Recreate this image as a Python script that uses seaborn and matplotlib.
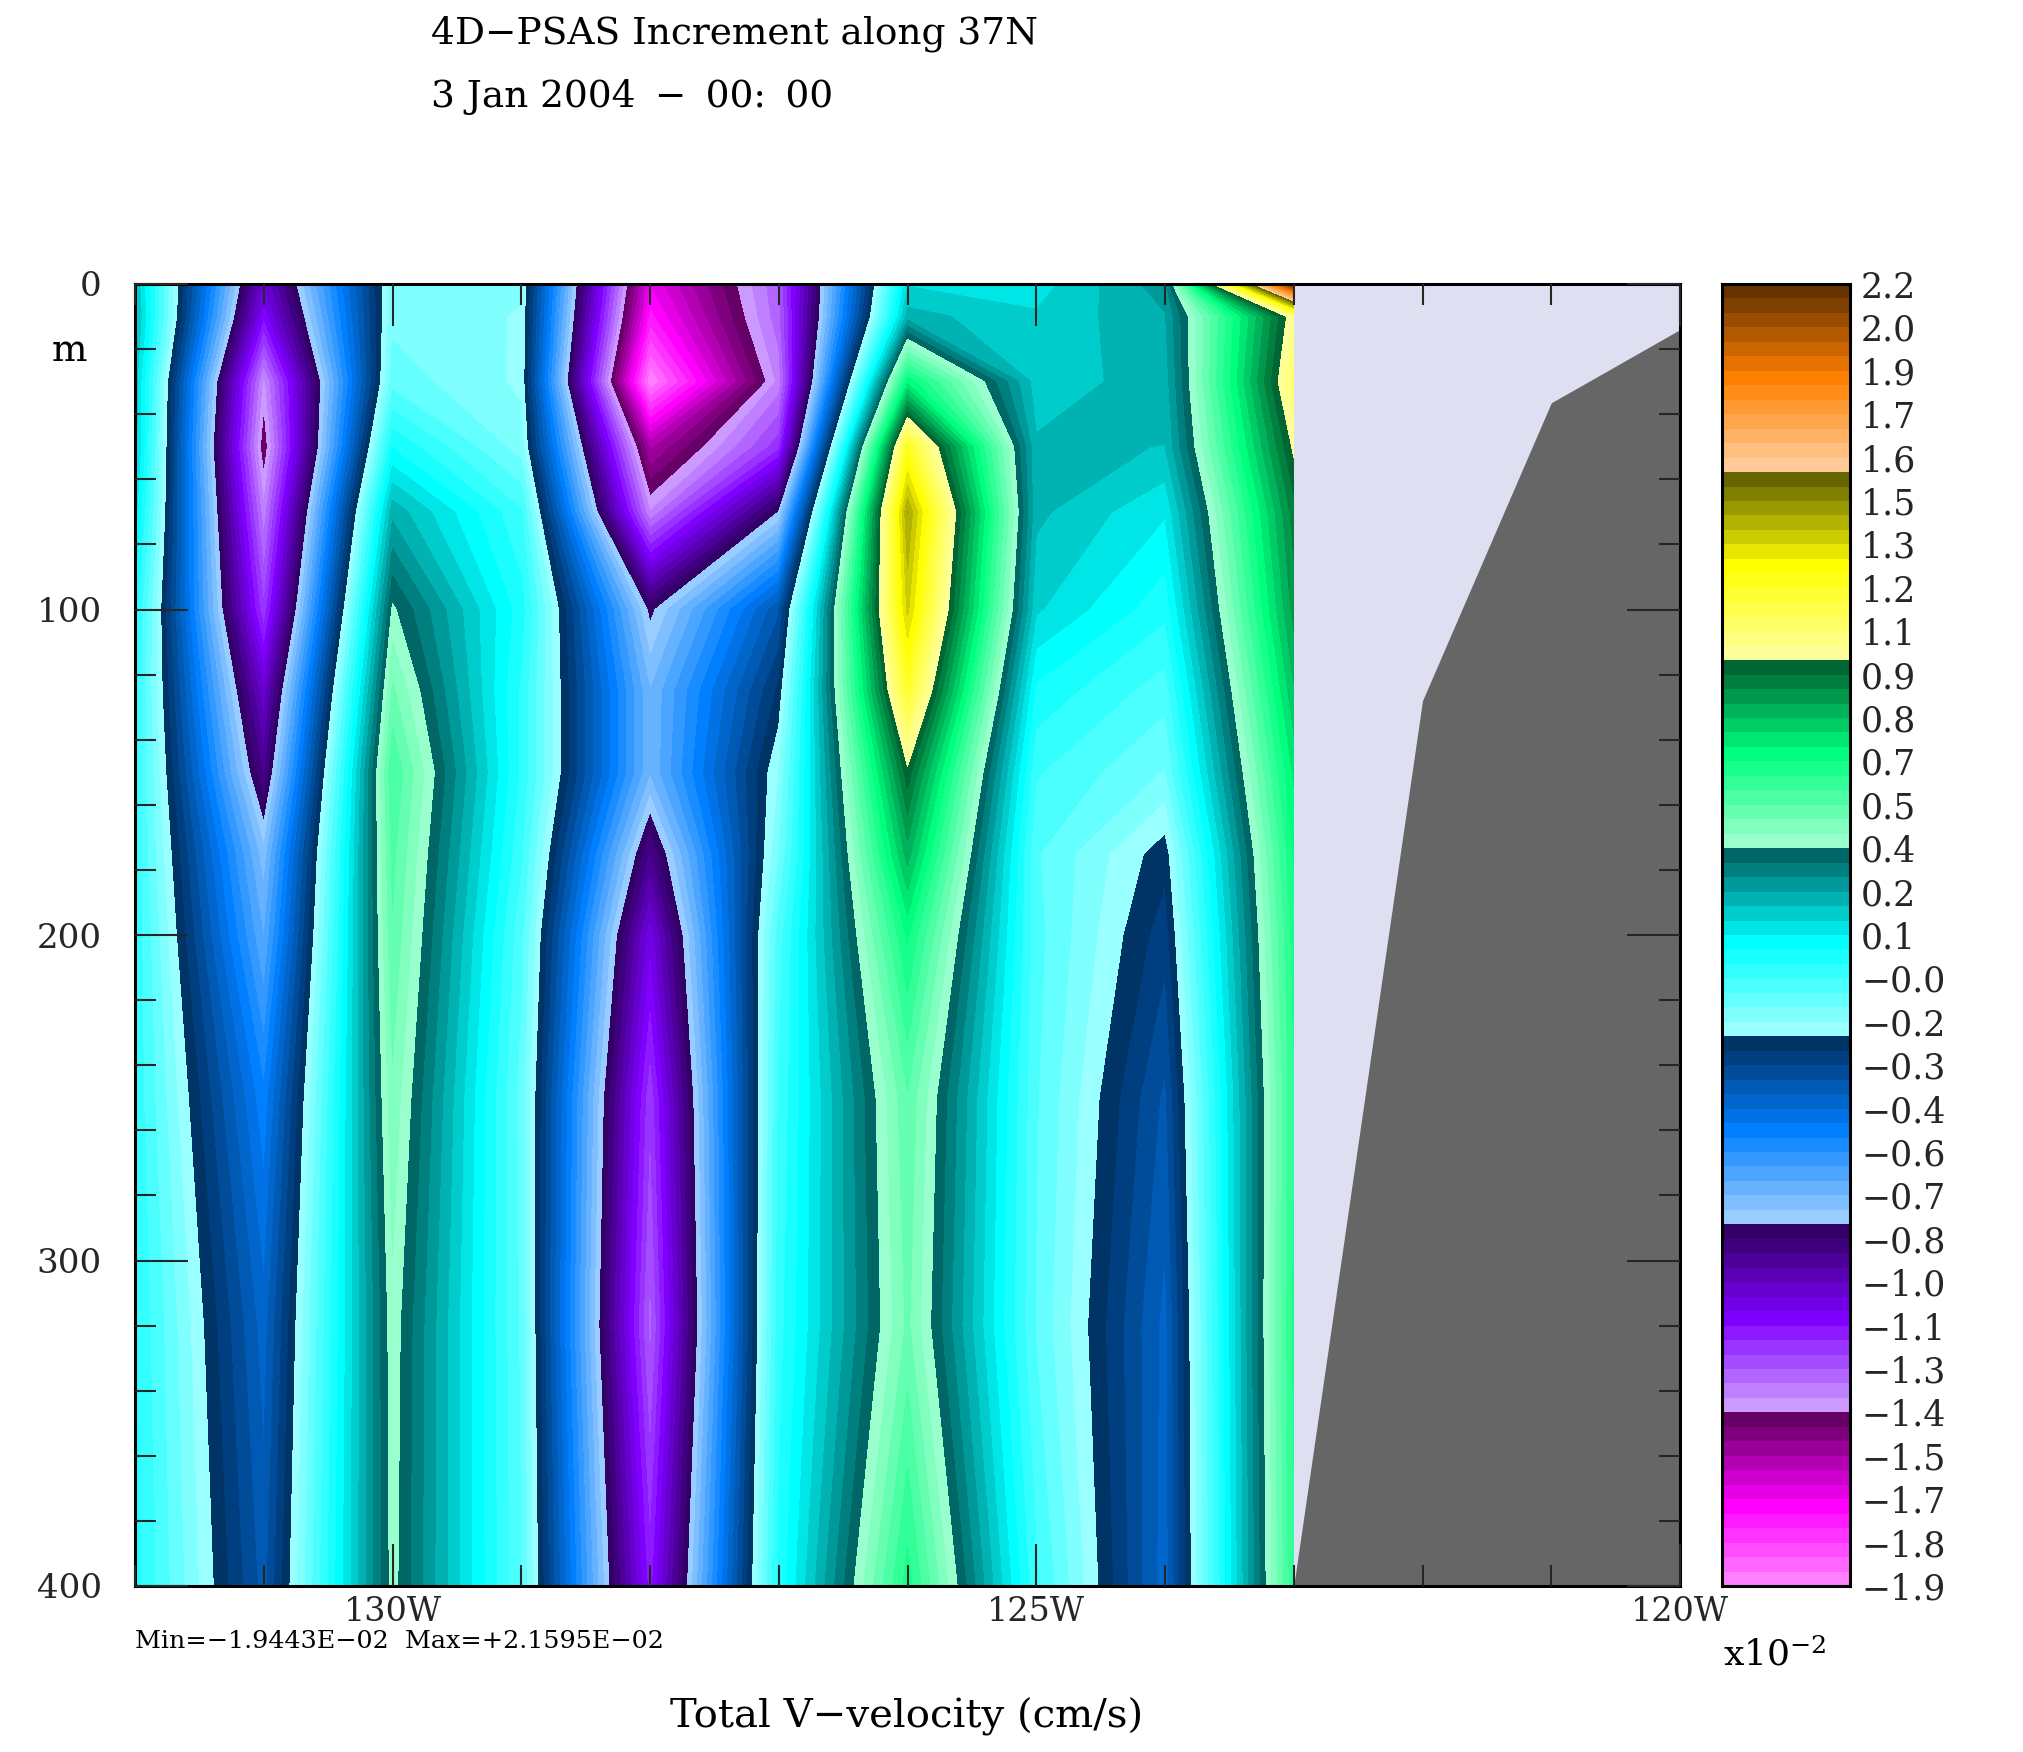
import numpy as np
import matplotlib
matplotlib.use("Agg")
import matplotlib.pyplot as plt
from matplotlib.colors import ListedColormap, to_rgb
from matplotlib.ticker import FixedLocator
import seaborn as sns

# section along 37N, values in units of 1e-2
lons = [-132, -131, -130, -129, -128, -127, -126, -125, -124, -123]
depths = [0, 10, 30, 50, 70, 100, 125, 150, 175, 200, 250, 320, 400]
v_0 = [.198, -1.035, -.140, -.160, -1.670, -1.268, .148, .130, .270, 2.1595]
v_10 = [.219, -1.116, -.135, -.170, -1.735, -1.278, .219, .160, .240, 1.017]
v_30 = [.178, -1.369, -.095, -.176, -1.9443, -1.338, .684, .175, .220, 1.078]
v_50 = [.178, -1.440, .057, -.145, -1.548, -1.187, 1.210, .205, .198, .987]
v_70 = [.128, -1.338, .229, -.024, -1.349, -.804, 1.432, .210, .113, .906]
v_100 = [.037, -1.207, .391, .037, -.823, -.358, 1.351, .160, .030, .856]
v_125 = [.006, -1.025, .482, .006, -.712, -.246, 1.189, .050, -.055, .785]
v_150 = [.006, -.904, .562, .006, -.712, -.166, .957, -.024, -.125, .710]
v_175 = [-.004, -.742, .532, -.024, -.904, -.125, .815, -.070, -.240, .660]
v_200 = [.006, -.671, .512, -.064, -1.065, -.054, .664, -.060, -.285, .630]
v_250 = [.006, -.519, .461, -.095, -1.207, -.024, .512, -.070, -.360, .600]
v_320 = [.023, -.418, .411, -.085, -1.278, -.004, .482, -.080, -.410, .620]
v_400 = [.031, -.368, .401, -.075, -1.146, .027, .633, -.020, -.420, .600]
section = [v_0, v_10, v_30, v_50, v_70, v_100, v_125, v_150, v_175, v_200, v_250, v_320, v_400]

# sea floor east of the last wet column
bottom_lons = [-123, -122, -121, -120]
bottom_depths = [400, 128, 36.5, 14]

v_min = -1.9443
v_max = 2.1595
cbar_labels = ['2.2', '2.0', '1.9', '1.7', '1.6', '1.5', '1.3', '1.2', '1.1', '0.9', '0.8',
               '0.7', '0.5', '0.4', '0.2', '0.1', '\u22120.0', '\u22120.2', '\u22120.3', '\u22120.4',
               '\u22120.6', '\u22120.7', '\u22120.8', '\u22121.0', '\u22121.1', '\u22121.3', '\u22121.4',
               '\u22121.5', '\u22121.7', '\u22121.8', '\u22121.9']
base_colors = ['#ff00ff', '#7f00ff', '#007fff', '#00ffff', '#00ff7f', '#ffff00', '#ff7f00']

W, H = 2024, 1752
SERIF = 'DejaVu Serif'


def px_rect(x0, y0, x1, y1):
    return [x0 / W, 1 - y1 / H, (x1 - x0) / W, (y1 - y0) / H]


def px_text(x, y, s, size, **kw):
    fig.text(x / W, 1 - y / H, s, fontsize=size, va='baseline', **kw)


def band_colors():
    # each hue: 6 tints, the pure colour, 6 shades; the palest magenta is not used
    colors = []
    for base in base_colors:
        rgb = np.array(to_rgb(base))
        colors += sns.blend_palette([rgb * .4 + .6, rgb], 7)
        colors += sns.blend_palette([rgb, rgb * .4], 7)[1:]
    return colors[1:]


sns.set_theme(style='ticks')
plt.rcParams['font.family'] = [SERIF, 'DejaVu Sans']
plt.rcParams['mathtext.fontset'] = 'dejavuserif'

colors = band_colors()
levels = np.linspace(v_min, v_max, len(colors) + 1)

fig = plt.figure(figsize=(W / 100, H / 100), dpi=100, facecolor='white')
ax = fig.add_axes(px_rect(135, 284, 1680, 1586), facecolor='#dfdff2')
ax.contourf(lons, depths, np.array(section), levels=levels, colors=colors, antialiased=False)
ax.fill_between(bottom_lons, bottom_depths, 400, color='#666666', lw=0)

ax.set_axisbelow(False)
ax.set_xlim(-132, -120)
ax.set_ylim(400, 0)
ax.set_xticks([-130, -125, -120], ['130W', '125W', '120W'])
ax.set_yticks(range(0, 401, 100))
ax.xaxis.set_minor_locator(FixedLocator(range(-132, -119)))
ax.yaxis.set_minor_locator(FixedLocator(range(0, 401, 20)))
ax.tick_params(which='major', axis='x', direction='in', top=True, length=30, width=1.5, labelsize=24, pad=7)
ax.tick_params(which='major', axis='y', direction='in', right=True, length=38, width=1.5, labelsize=24.5, pad=24)
ax.tick_params(which='minor', direction='in', top=True, right=True, length=15, width=1.5)
for spine in ax.spines.values():
    spine.set_linewidth(2.2)
    spine.set_color('black')

# colour key
cax = fig.add_axes(px_rect(1722, 284, 1850, 1586))
centers = (levels[:-1] + levels[1:]) / 2
sns.heatmap(centers[::-1].reshape(-1, 1), ax=cax, cmap=ListedColormap(colors), vmin=v_min, vmax=v_max,
            cbar=False, xticklabels=False)
cax.set_yticks(np.linspace(0, len(colors), len(cbar_labels)), cbar_labels, rotation=0, ha='left')
cax.yaxis.tick_right()
cax.tick_params(axis='y', length=0, labelsize=25, pad=8)
for spine in cax.spines.values():
    spine.set_visible(True)
    spine.set_linewidth(2.2)
    spine.set_color('black')

px_text(431, 43, '4D\u2212PSAS Increment along 37N', 27, color='black')
px_text(431, 107, '3 Jan 2004 \u2009\u2212 \u200900: \u200900', 27, color='black')
px_text(52, 361, 'm', 27, color='black')
px_text(135, 1648, 'Min=\u22121.9443E\u221202  Max=+2.1595E\u221202', 18.3, color='black')
px_text(907, 1728, 'Total V\u2212velocity (cm/s)', 29, color='black', ha='center')
px_text(1723, 1665, r'x10$^{-2}$', 26, color='black')

fig.savefig('out.png', dpi=100, facecolor='white')
